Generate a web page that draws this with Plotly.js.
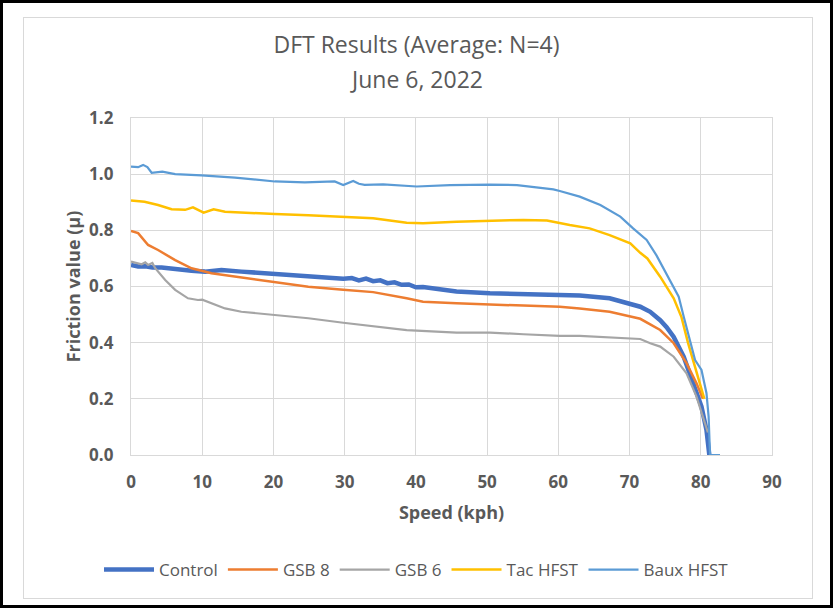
<!DOCTYPE html>
<html>
<head>
<meta charset="utf-8">
<script src="https://cdn.plot.ly/plotly-3.0.1.min.js"></script>
<style>
  html, body { margin: 0; padding: 0; background: #fff; }
  #wrap { position: relative; width: 833px; height: 608px; }
  #chart { position: absolute; left: 0; top: 0; width: 833px; height: 608px; }
  #outer { position: absolute; left: 0; top: 0; width: 833px; height: 608px; border: 3px solid #000; box-sizing: border-box; pointer-events: none; }
  #inner { position: absolute; left: 23px; top: 17px; width: 790px; height: 582px; border: 1.5px solid #D9D9D9; box-sizing: border-box; pointer-events: none; }
</style>
</head>
<body>
<div id="wrap">
  <div id="chart"></div>
  <div id="inner"></div>
  <div id="outer"></div>
</div>
<script>
// Data
const seriesNames = ["Control", "GSB 8", "GSB 6", "Tac HFST", "Baux HFST"];

const controlSpeed = [0, 1, 2, 3, 4.3, 6, 8.5, 10.4, 12.7, 15.5, 20.2, 24.9, 29.8, 31, 32, 33, 34, 35, 36, 37, 38, 39, 40, 41, 43, 45.7, 50.4, 55.1, 60.2, 63, 67.2, 70.1, 71.5, 72.9, 74.3, 75.2, 76.2, 77.6, 79, 80.1, 80.8, 81.2];
const controlValue = [0.677, 0.671, 0.672, 0.668, 0.668, 0.662, 0.656, 0.653, 0.659, 0.653, 0.645, 0.637, 0.628, 0.630, 0.622, 0.628, 0.619, 0.622, 0.612, 0.615, 0.606, 0.607, 0.597, 0.598, 0.590, 0.582, 0.576, 0.573, 0.570, 0.568, 0.558, 0.540, 0.528, 0.510, 0.480, 0.455, 0.420, 0.350, 0.255, 0.172, 0.089, 0.0];

const gsb8Speed = [0, 1, 2.4, 3.8, 6.2, 8.5, 11.3, 15.5, 20.2, 24.9, 29.8, 34, 38.7, 41, 45.7, 50.4, 55.1, 60.2, 63, 67.2, 70.1, 71.5, 72.9, 74.3, 76.2, 78, 79.4, 80.3];
const gsb8Value = [0.798, 0.790, 0.748, 0.730, 0.694, 0.665, 0.647, 0.632, 0.614, 0.599, 0.588, 0.580, 0.558, 0.546, 0.540, 0.537, 0.532, 0.528, 0.522, 0.510, 0.493, 0.485, 0.465, 0.445, 0.398, 0.327, 0.255, 0.200];

const gsb6Speed = [0, 1, 1.5, 2, 2.4, 3, 3.4, 4.8, 6.2, 8, 9.4, 10, 11.3, 13.2, 15.5, 20.2, 24.9, 29.8, 34, 38.7, 45.7, 50.4, 55.1, 60.2, 63, 67.2, 70.1, 71.5, 72.9, 74.3, 76.2, 78, 79.4, 80.3, 81];
const gsb6Value = [0.689, 0.683, 0.679, 0.686, 0.677, 0.684, 0.665, 0.623, 0.588, 0.558, 0.552, 0.553, 0.540, 0.522, 0.510, 0.499, 0.487, 0.471, 0.459, 0.445, 0.436, 0.436, 0.430, 0.424, 0.424, 0.419, 0.416, 0.413, 0.398, 0.386, 0.350, 0.291, 0.208, 0.140, 0.080];

const tacSpeed = [0, 1.9, 3.8, 5.7, 7.6, 8.7, 10.2, 11.6, 13.2, 15.5, 20.2, 24.9, 29.8, 34, 38.7, 41, 45.7, 50.4, 55.1, 58.4, 60.2, 61.6, 64.4, 67.2, 70.1, 71.5, 72.5, 74.3, 76.2, 77.3, 78.2, 79.2, 80.5];
const tacValue = [0.906, 0.902, 0.890, 0.875, 0.873, 0.882, 0.863, 0.875, 0.866, 0.863, 0.858, 0.854, 0.849, 0.843, 0.827, 0.825, 0.831, 0.833, 0.837, 0.835, 0.825, 0.819, 0.807, 0.783, 0.754, 0.720, 0.700, 0.635, 0.558, 0.490, 0.400, 0.310, 0.200];

const bauxSpeed = [0, 1, 1.7, 2.3, 2.9, 4.4, 6.2, 9.9, 14.6, 18.8, 20.2, 24.4, 28.6, 29.8, 30.3, 31.2, 32, 32.8, 35.4, 40.1, 44.8, 50.4, 54.2, 57.4, 59.3, 60.2, 63, 65.9, 68.7, 70.5, 72.4, 73.8, 75, 75.7, 76.9, 77.6, 78.3, 79.2, 80.1, 80.8, 81.1, 81.3, 82.7];
const bauxValue = [1.027, 1.025, 1.033, 1.025, 1.005, 1.009, 1.000, 0.996, 0.988, 0.976, 0.974, 0.971, 0.974, 0.961, 0.967, 0.976, 0.966, 0.962, 0.964, 0.956, 0.961, 0.963, 0.961, 0.953, 0.946, 0.940, 0.920, 0.890, 0.849, 0.807, 0.766, 0.710, 0.655, 0.620, 0.564, 0.493, 0.421, 0.338, 0.303, 0.220, 0.137, 0.0, 0.0];

const xTickVals = [0, 10, 20, 30, 40, 50, 60, 70, 80, 90];
const yTickVals = [0, 0.2, 0.4, 0.6, 0.8, 1.0, 1.2];

const titleLine1 = "DFT Results (Average: N=4)";
const titleLine2 = "June 6, 2022";

const colors = ["#4472C4", "#ED7D31", "#A5A5A5", "#FFC000", "#5B9BD5"];
const widths = [4.5, 2.5, 2.2, 2.5, 2.2];
const xs = [controlSpeed, gsb8Speed, gsb6Speed, tacSpeed, bauxSpeed];
const ys = [controlValue, gsb8Value, gsb6Value, tacValue, bauxValue];

const FONT = "'Open Sans', 'Noto Sans', sans-serif";
const TXT = "#595959";

const traces = seriesNames.map((n, i) => ({
  type: "scatter", mode: "lines", name: n,
  x: xs[i], y: ys[i],
  line: { color: colors[i], width: widths[i] }
}));

const layout = {
  width: 833, height: 608,
  margin: { l: 131, r: 61, t: 118, b: 153 },
  paper_bgcolor: "#fff", plot_bgcolor: "#fff",
  font: { family: FONT, color: TXT, size: 14 },
  title: {
    text: titleLine1,
    xref: "container", x: 0.5, xanchor: "center",
    yref: "container", y: 1 - 45 / 608, yanchor: "middle",
    font: { family: FONT, size: 23, color: TXT }
  },
  annotations: [{
    text: titleLine2, showarrow: false,
    xref: "paper", x: (416.5 - 131) / 641, xanchor: "center",
    yref: "paper", y: 1 + (118 - 79) / 337, yanchor: "middle",
    font: { family: FONT, size: 23, color: TXT }
  }],
  xaxis: {
    range: [0, 90], tickvals: xTickVals, ticktext: xTickVals.map(String),
    showgrid: true, gridcolor: "#D9D9D9", gridwidth: 1.2,
    showline: true, linecolor: "#D9D9D9", linewidth: 1.2, mirror: true,
    zeroline: false, ticks: "", ticklabelstandoff: 11,
    tickfont: { family: FONT, size: 17, color: TXT, weight: "bold" },
    title: { text: "Speed (kph)", standoff: 14, font: { family: FONT, size: 18, color: TXT, weight: "bold" } },
    fixedrange: true
  },
  yaxis: {
    range: [0, 1.2], tickvals: yTickVals, tickformat: ".1f",
    showgrid: true, gridcolor: "#D9D9D9", gridwidth: 1.2,
    showline: true, linecolor: "#D9D9D9", linewidth: 1.2, mirror: true,
    zeroline: false, ticks: "", ticklabelstandoff: 13,
    tickfont: { family: FONT, size: 17, color: TXT, weight: "bold" },
    title: { text: "Friction value (µ)", standoff: 3, font: { family: FONT, size: 18, color: TXT, weight: "bold" } },
    fixedrange: true
  },
  showlegend: true,
  legend: {
    orientation: "h", xref: "container", yref: "container",
    x: 0.5, xanchor: "center", y: 1 - 570 / 608, yanchor: "middle",
    font: { family: FONT, size: 17, color: TXT },
    itemwidth: 50,
    traceorder: "normal"
  }
};

Plotly.newPlot("chart", traces, layout, { staticPlot: true, displayModeBar: false });
</script>
</body>
</html>
